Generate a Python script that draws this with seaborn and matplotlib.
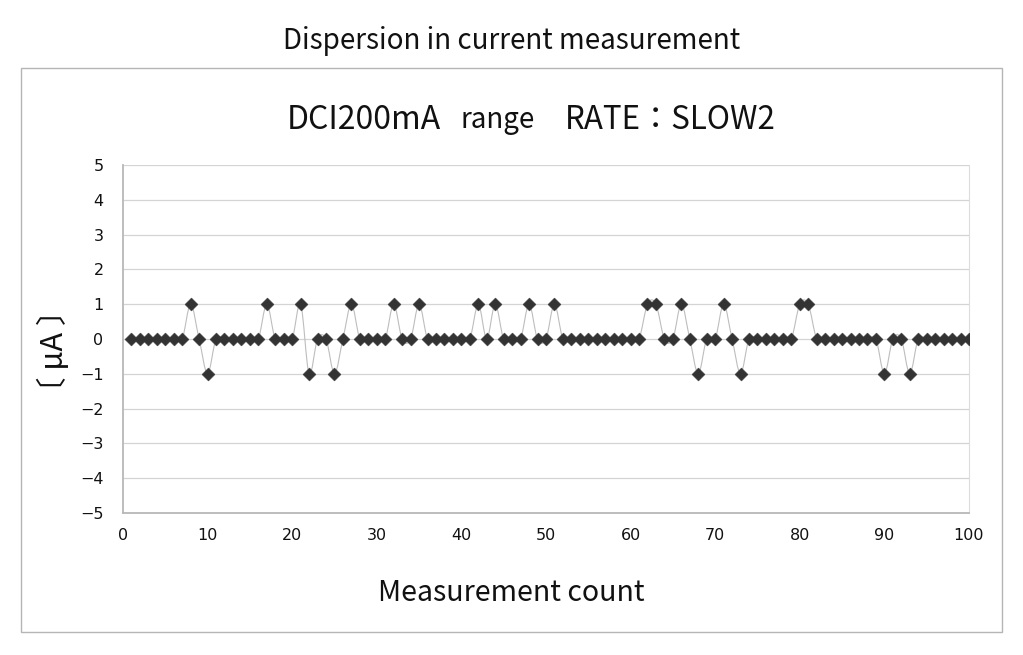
import matplotlib
matplotlib.use("Agg")
import matplotlib.pyplot as plt
from matplotlib.path import Path
from matplotlib.patches import PathPatch, Rectangle
import numpy as np
import pandas as pd
import seaborn as sns

# measurement index 1..100, deviation in uA
counts = list(range(1, 101))
high_points = [8, 17, 21, 27, 32, 35, 42, 44, 48, 51, 62, 63, 66, 71, 80, 81]
low_points = [10, 22, 25, 68, 73, 90, 93]
deviation = [1 if c in high_points else (-1 if c in low_points else 0) for c in counts]

x_ticks = list(range(0, 101, 10))
y_ticks = list(range(-5, 6))

df = pd.DataFrame({"count": counts, "dev": deviation})

sns.set_style("white")
plt.rcParams["font.family"] = ["DejaVu Sans"]
jp = ["Noto Sans CJK JP", "DejaVu Sans"]

fig = plt.figure(figsize=(10.23, 6.55), dpi=100)
ax = fig.add_axes([0.1202, 0.2168, 0.827, 0.5313])

# outer frame around chart area
fig.patches.append(Rectangle((0.0205, 0.035), 0.959, 0.861, transform=fig.transFigure,
                             fill=False, edgecolor="#b5b5b5", linewidth=1.0))

# smoothed connecting line (catmull-rom style, like excel smoothing)
xs = df["count"].to_numpy(float)
ys = df["dev"].to_numpy(float)
verts = [(xs[0], ys[0])]
codes = [Path.MOVETO]
n = len(xs)
for i in range(n - 1):
    p0 = np.array([xs[max(i - 1, 0)], ys[max(i - 1, 0)]])
    p1 = np.array([xs[i], ys[i]])
    p2 = np.array([xs[i + 1], ys[i + 1]])
    p3 = np.array([xs[min(i + 2, n - 1)], ys[min(i + 2, n - 1)]])
    c1 = p1 + (p2 - p0) / 6
    c2 = p2 - (p3 - p1) / 6
    verts += [tuple(c1), tuple(c2), tuple(p2)]
    codes += [Path.CURVE4] * 3
ax.add_patch(PathPatch(Path(verts, codes), fill=False, edgecolor="#bdbdbd", linewidth=0.8, zorder=2))

sns.scatterplot(data=df, x="count", y="dev", marker="D", s=44, color="#333333",
                edgecolor="#333333", linewidth=0.3, ax=ax, zorder=3, legend=False)

ax.set_xlim(0, 100)
ax.set_ylim(-5, 5)
ax.set_xticks(x_ticks)
ax.set_yticks(y_ticks)
ax.yaxis.grid(True, color="#d4d4d4", linewidth=0.9)
ax.xaxis.grid(False)
ax.set_axisbelow(True)

for side in ["left", "bottom"]:
    ax.spines[side].set_color("#b8b8b8")
    ax.spines[side].set_linewidth(1.3)
ax.spines["right"].set_color("#dcdcdc")
ax.spines["right"].set_linewidth(0.8)
ax.spines["top"].set_visible(False)

ax.tick_params(axis="x", direction="in", length=4, width=0.8, color="#b8b8b8",
               pad=11, labelsize=11.5, labelcolor="#111111")
ax.tick_params(axis="y", length=0, pad=14, labelsize=11.5, labelcolor="#111111")
ax.set_xlabel("")
ax.set_ylabel("")

fig.text(0.5, 0.938, "Dispersion in current measurement", ha="center", va="center",
         fontsize=20, family=jp, color="#111111")
fig.text(0.2805, 0.817, "DCI200mA", ha="left", va="center", fontsize=23, family=jp, color="#111111")
fig.text(0.4497, 0.817, "range", ha="left", va="center", fontsize=20, family=jp, color="#111111")
fig.text(0.552, 0.817, "RATE：SLOW2", ha="left", va="center", fontsize=22.5, family=jp, color="#111111")
fig.text(0.053, 0.464, "〔 μA 〕", ha="center", va="center", rotation=90, fontsize=22,
         family=jp, color="#111111")
fig.text(0.5, 0.095, "Measurement count", ha="center", va="center", fontsize=20.5,
         family=jp, color="#111111")

fig.savefig("out.png", dpi=100)
